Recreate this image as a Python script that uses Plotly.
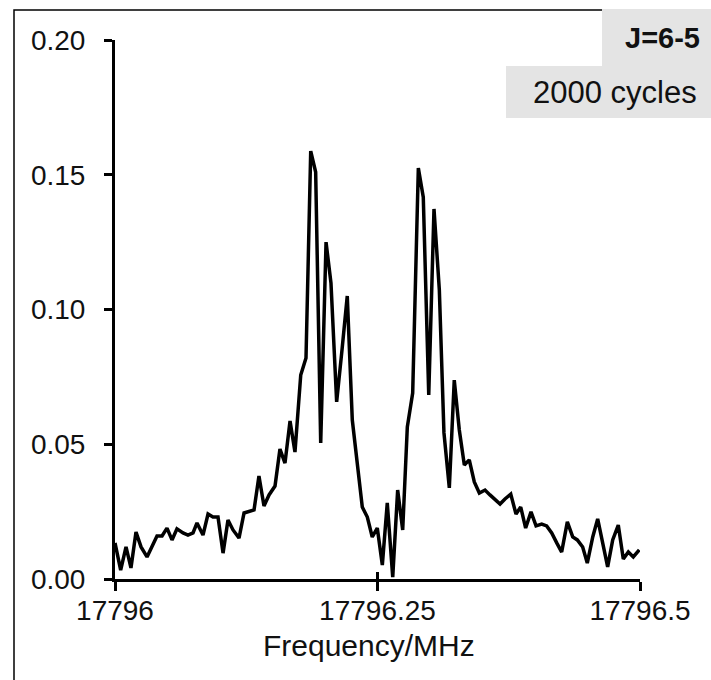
import plotly.graph_objects as go

freq = [17796.0000, 17796.0054, 17796.0105, 17796.0152, 17796.0200, 17796.0248, 17796.0305, 17796.0352,
        17796.0400, 17796.0448, 17796.0495, 17796.0543, 17796.0590, 17796.0648, 17796.0695, 17796.0743,
        17796.0781, 17796.0838, 17796.0886, 17796.0933, 17796.0981, 17796.1029, 17796.1076, 17796.1124,
        17796.1181, 17796.1229, 17796.1276, 17796.1324, 17796.1371, 17796.1419, 17796.1467, 17796.1524,
        17796.1571, 17796.1619, 17796.1667, 17796.1714, 17796.1769, 17796.1819, 17796.1864, 17796.1911,
        17796.1959, 17796.2010, 17796.2057, 17796.2111, 17796.2162, 17796.2212, 17796.2260, 17796.2308,
        17796.2355, 17796.2403, 17796.2450, 17796.2498, 17796.2546, 17796.2593, 17796.2645, 17796.2692,
        17796.2740, 17796.2784, 17796.2835, 17796.2889, 17796.2936, 17796.2988, 17796.3038, 17796.3089,
        17796.3133, 17796.3184, 17796.3231, 17796.3279, 17796.3327, 17796.3374, 17796.3422, 17796.3470,
        17796.3524, 17796.3571, 17796.3619, 17796.3667, 17796.3714, 17796.3769, 17796.3819, 17796.3864,
        17796.3911, 17796.3962, 17796.4010, 17796.4064, 17796.4111, 17796.4159, 17796.4207, 17796.4254,
        17796.4308, 17796.4359, 17796.4403, 17796.4454, 17796.4498, 17796.4550, 17796.4597, 17796.4645,
        17796.4692, 17796.4740, 17796.4793, 17796.4841, 17796.4889, 17796.4936, 17796.4993]

intensity = [0.0134, 0.0033, 0.0119, 0.0041, 0.0174, 0.0119, 0.0082, 0.0119,
             0.0160, 0.0160, 0.0189, 0.0145, 0.0186, 0.0171, 0.0163, 0.0171,
             0.0208, 0.0163, 0.0241, 0.0230, 0.0230, 0.0096, 0.0219, 0.0182,
             0.0152, 0.0245, 0.0249, 0.0256, 0.0382, 0.0271, 0.0312, 0.0345,
             0.0482, 0.0430, 0.0586, 0.0471, 0.0757, 0.0820, 0.1588, 0.1510,
             0.0505, 0.1250, 0.1098, 0.0657, 0.0850, 0.1050, 0.0590, 0.0430,
             0.0267, 0.0230, 0.0156, 0.0189, 0.0052, 0.0282, 0.0007, 0.0330,
             0.0182, 0.0564, 0.0690, 0.1525, 0.1417, 0.0683, 0.1373, 0.1072,
             0.0542, 0.0338, 0.0738, 0.0553, 0.0423, 0.0442, 0.0360, 0.0319,
             0.0330, 0.0312, 0.0293, 0.0278, 0.0297, 0.0315, 0.0241, 0.0267,
             0.0189, 0.0249, 0.0197, 0.0204, 0.0197, 0.0171, 0.0134, 0.0100,
             0.0212, 0.0156, 0.0145, 0.0119, 0.0059, 0.0156, 0.0223, 0.0134,
             0.0045, 0.0145, 0.0200, 0.0074, 0.0100, 0.0082, 0.0108]

x_ticks = [17796, 17796.25, 17796.5]
x_tick_labels = ["17796", "17796.25", "17796.5"]
y_ticks = [0.0, 0.05, 0.10, 0.15, 0.20]
y_tick_labels = ["0.00", "0.05", "0.10", "0.15", "0.20"]
x_range = [17796, 17796.5]
y_range = [0, 0.2]
x_title = "Frequency/MHz"
label_transition = "J=6-5"
label_cycles = "2000 cycles"

FONT = "Arial, Liberation Sans, sans-serif"
TICK_FS = 28
TITLE_FS = 30
TXT = "#111111"

fig = go.Figure()
fig.add_trace(go.Scatter(x=freq, y=intensity, mode="lines",
                         line=dict(color="black", width=3.5), showlegend=False,
                         hoverinfo="skip"))
# helper trace for the inward tick half of the x axis
fig.add_trace(go.Scatter(x=x_range, y=y_range, mode="lines", xaxis="x2",
                         line=dict(color="rgba(0,0,0,0)", width=0),
                         showlegend=False, hoverinfo="skip"))

fig.update_layout(
    width=711, height=680,
    margin=dict(l=115, r=71, t=40, b=101),
    paper_bgcolor="white", plot_bgcolor="white",
    font=dict(family=FONT, size=TICK_FS, color=TXT),
    xaxis=dict(range=x_range, tickvals=x_ticks, ticktext=x_tick_labels,
               showline=True, linecolor="black", linewidth=3,
               ticks="outside", ticklen=9, tickwidth=3, tickcolor="black",
               showgrid=False, zeroline=False, ticklabelstandoff=-5,
               tickfont=dict(family=FONT, size=TICK_FS, color=TXT)),
    xaxis2=dict(range=x_range, tickvals=x_ticks, overlaying="x", side="bottom",
                showline=False, ticks="inside", ticklen=7, tickwidth=3,
                tickcolor="black", showticklabels=False, showgrid=False,
                zeroline=False),
    yaxis=dict(range=y_range, tickvals=y_ticks, ticktext=y_tick_labels,
               showline=True, linecolor="black", linewidth=3,
               ticks="outside", ticklen=8, tickwidth=3, tickcolor="black",
               showgrid=False, zeroline=False, ticklabelstandoff=13,
               tickfont=dict(family=FONT, size=TICK_FS, color=TXT)),
)

def px_x(px):
    return (px - 115) / 525.0

def px_y(py):
    return (579 - py) / 539.0

# outer frame
fig.add_shape(type="rect", xref="paper", yref="paper",
              x0=px_x(14), x1=px_x(730), y0=px_y(700), y1=px_y(10),
              line=dict(color="black", width=1.5), fillcolor="rgba(0,0,0,0)")
# grey label boxes
fig.add_shape(type="rect", xref="paper", yref="paper",
              x0=px_x(602), x1=px_x(730), y0=px_y(66), y1=px_y(9),
              line=dict(width=0), fillcolor="#e4e4e4")
fig.add_shape(type="rect", xref="paper", yref="paper",
              x0=px_x(506), x1=px_x(730), y0=px_y(118), y1=px_y(66),
              line=dict(width=0), fillcolor="#e4e4e4")

# axis title
fig.add_annotation(xref="paper", yref="paper", x=px_x(369), y=px_y(645),
                   xanchor="center", yanchor="middle", showarrow=False,
                   text=x_title,
                   font=dict(family=FONT, size=TITLE_FS, color=TXT))

fig.add_annotation(xref="paper", yref="paper", x=px_x(702), y=px_y(38),
                   xanchor="right", yanchor="middle", showarrow=False,
                   text="<b>" + label_transition + "</b>",
                   font=dict(family=FONT, size=29, color=TXT))
fig.add_annotation(xref="paper", yref="paper", x=px_x(699), y=px_y(92),
                   xanchor="right", yanchor="middle", showarrow=False,
                   text=label_cycles,
                   font=dict(family=FONT, size=31, color=TXT))

fig.write_html("out.html")
